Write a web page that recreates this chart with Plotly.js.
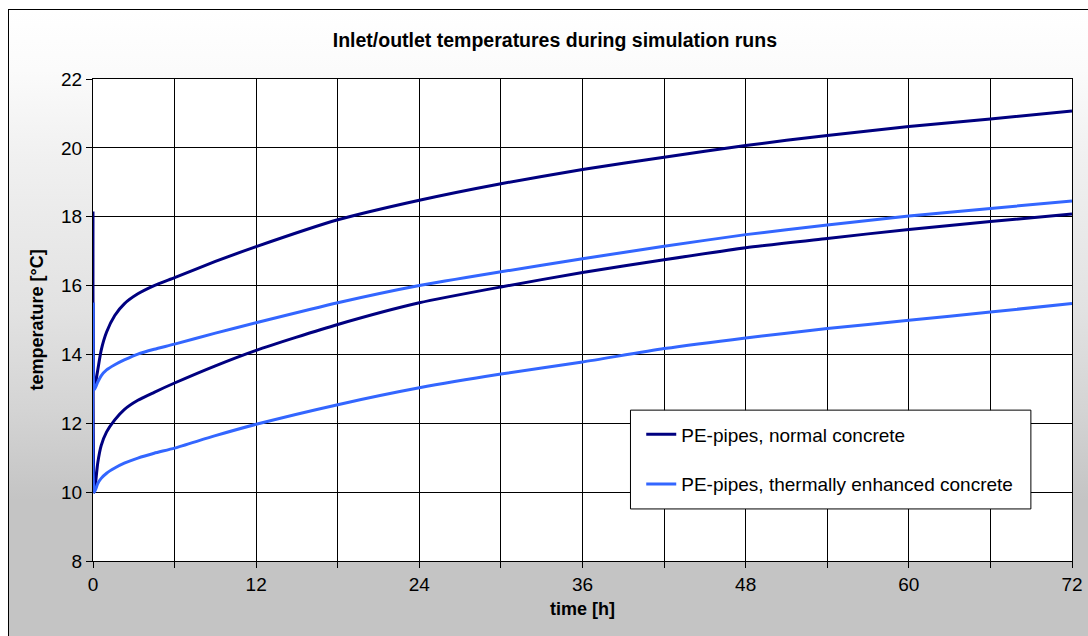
<!DOCTYPE html>
<html>
<head>
<meta charset="utf-8">
<script src="https://cdn.plot.ly/plotly-3.0.1.min.js"></script>
<style>
  html, body { margin: 0; padding: 0; width: 1088px; height: 636px; overflow: hidden; background: #ffffff; }
  #frame { position: absolute; left: 8px; top: 9px; width: 1100px; height: 700px; border: 1px solid #000;
    background: linear-gradient(to bottom, #ffffff 0px, #fbfbfb 60px, #f0f0f0 150px, #e2e2e2 300px, #d4d4d4 400px, #c4c4c4 490px, #c4c4c4 700px); }
  #chart { position: absolute; left: 0; top: 0; width: 1088px; height: 636px; }
</style>
</head>
<body>
<div id="frame"></div>
<div id="chart"></div>
<script>
// time [h]
const timeH = [0, 0.1, 0.35, 0.6, 1.0, 1.6, 2.3, 3.3, 4.5, 6, 9, 12, 18, 24, 30, 36, 42, 48, 54, 60, 66, 72];
// PE-pipes, normal concrete (upper / lower curve)
const normalUpper = [18.15, 13.0, 13.55, 14.12, 14.65, 15.13, 15.47, 15.76, 16.0, 16.23, 16.70, 17.13, 17.91, 18.48, 18.96, 19.37, 19.73, 20.07, 20.36, 20.62, 20.84, 21.07];
const normalLower = [15.5, 10.0, 10.85, 11.35, 11.75, 12.1, 12.4, 12.67, 12.9, 13.17, 13.67, 14.12, 14.87, 15.5, 15.96, 16.38, 16.75, 17.1, 17.37, 17.63, 17.86, 18.08];
// PE-pipes, thermally enhanced concrete (upper / lower curve)
const enhancedUpper = [15.5, 12.98, 13.2, 13.38, 13.55, 13.7, 13.84, 14.01, 14.15, 14.3, 14.62, 14.92, 15.5, 16.0, 16.4, 16.78, 17.14, 17.48, 17.76, 18.02, 18.24, 18.46];
const enhancedLower = [15.5, 10.0, 10.25, 10.4, 10.55, 10.7, 10.84, 10.99, 11.13, 11.28, 11.64, 11.97, 12.54, 13.03, 13.43, 13.78, 14.17, 14.48, 14.75, 14.99, 15.23, 15.48];

const seriesNames = ["PE-pipes, normal concrete", "PE-pipes, thermally enhanced concrete"];
const xTickVals = [0, 6, 12, 18, 24, 30, 36, 42, 48, 54, 60, 66, 72];
const xTickText = ["0", "", "12", "", "24", "", "36", "", "48", "", "60", "", "72"];
const yTickVals = [8, 10, 12, 14, 16, 18, 20, 22];

const darkBlue = "#000080";
const lightBlue = "#3366ff";
const FONT = '"Liberation Sans", Arial, sans-serif';

const lineStyle = (c) => ({color: c, width: 3, shape: "spline", smoothing: 0.6});

const traces = [
  {x: timeH, y: normalUpper, name: seriesNames[0], legendgroup: "n", showlegend: true,
   mode: "lines", line: lineStyle(darkBlue)},
  {x: timeH, y: normalLower, name: seriesNames[0], legendgroup: "n", showlegend: false,
   mode: "lines", line: lineStyle(darkBlue)},
  {x: timeH, y: enhancedUpper, name: seriesNames[1], legendgroup: "e", showlegend: true,
   mode: "lines", line: lineStyle(lightBlue)},
  {x: timeH, y: enhancedLower, name: seriesNames[1], legendgroup: "e", showlegend: false,
   mode: "lines", line: lineStyle(lightBlue)}
];

const layout = {
  width: 1088, height: 636,
  paper_bgcolor: "rgba(0,0,0,0)",
  plot_bgcolor: "#ffffff",
  margin: {l: 93, r: 16, t: 79, b: 75},
  font: {family: FONT, size: 19, color: "#000"},
  title: {text: "<b>Inlet/outlet temperatures during simulation runs</b>", font: {family: FONT, size: 19.5, color: "#000"},
          x: 0.51, xanchor: "center", y: 0.937, yanchor: "middle"},
  showlegend: true,
  legend: {x: 0.560, xanchor: "left", y: 0.302, yanchor: "top", bgcolor: "rgba(0,0,0,0)", borderwidth: 0,
           font: {family: FONT, size: 19, color: "#000"}, traceorder: "grouped", tracegroupgap: 22},
  xaxis: {
    range: [0, 72], tickmode: "array", tickvals: xTickVals, ticktext: xTickText,
    ticks: "outside", ticklen: 6, tickcolor: "#000", tickwidth: 1,
    showgrid: true, gridcolor: "#000", gridwidth: 1, zeroline: false,
    showline: true, linecolor: "#000", linewidth: 1, mirror: true,
    tickfont: {family: FONT, size: 19, color: "#000"},
    title: {text: "<b>time [h]</b>", font: {family: FONT, size: 18, color: "#000"}, standoff: 8}
  },
  yaxis: {
    range: [8, 22], tickmode: "array", tickvals: yTickVals,
    ticks: "outside", ticklen: 6, tickcolor: "#000", tickwidth: 1,
    showgrid: true, gridcolor: "#000", gridwidth: 1, zeroline: false,
    showline: true, linecolor: "#000", linewidth: 1, mirror: true,
    tickfont: {family: FONT, size: 19, color: "#000"},
    title: {text: "<b>temperature [°C]</b>", font: {family: FONT, size: 18, color: "#000"}, standoff: 12}
  },
  shapes: [
    {type: "rect", xref: "paper", yref: "paper", x0: 0.549, x1: 0.958, y0: 0.108, y1: 0.313,
     line: {color: "#000", width: 1}, fillcolor: "#ffffff", layer: "above"}
  ]
};

Plotly.newPlot("chart", traces, layout, {displayModeBar: false, staticPlot: true});
</script>
</body>
</html>
